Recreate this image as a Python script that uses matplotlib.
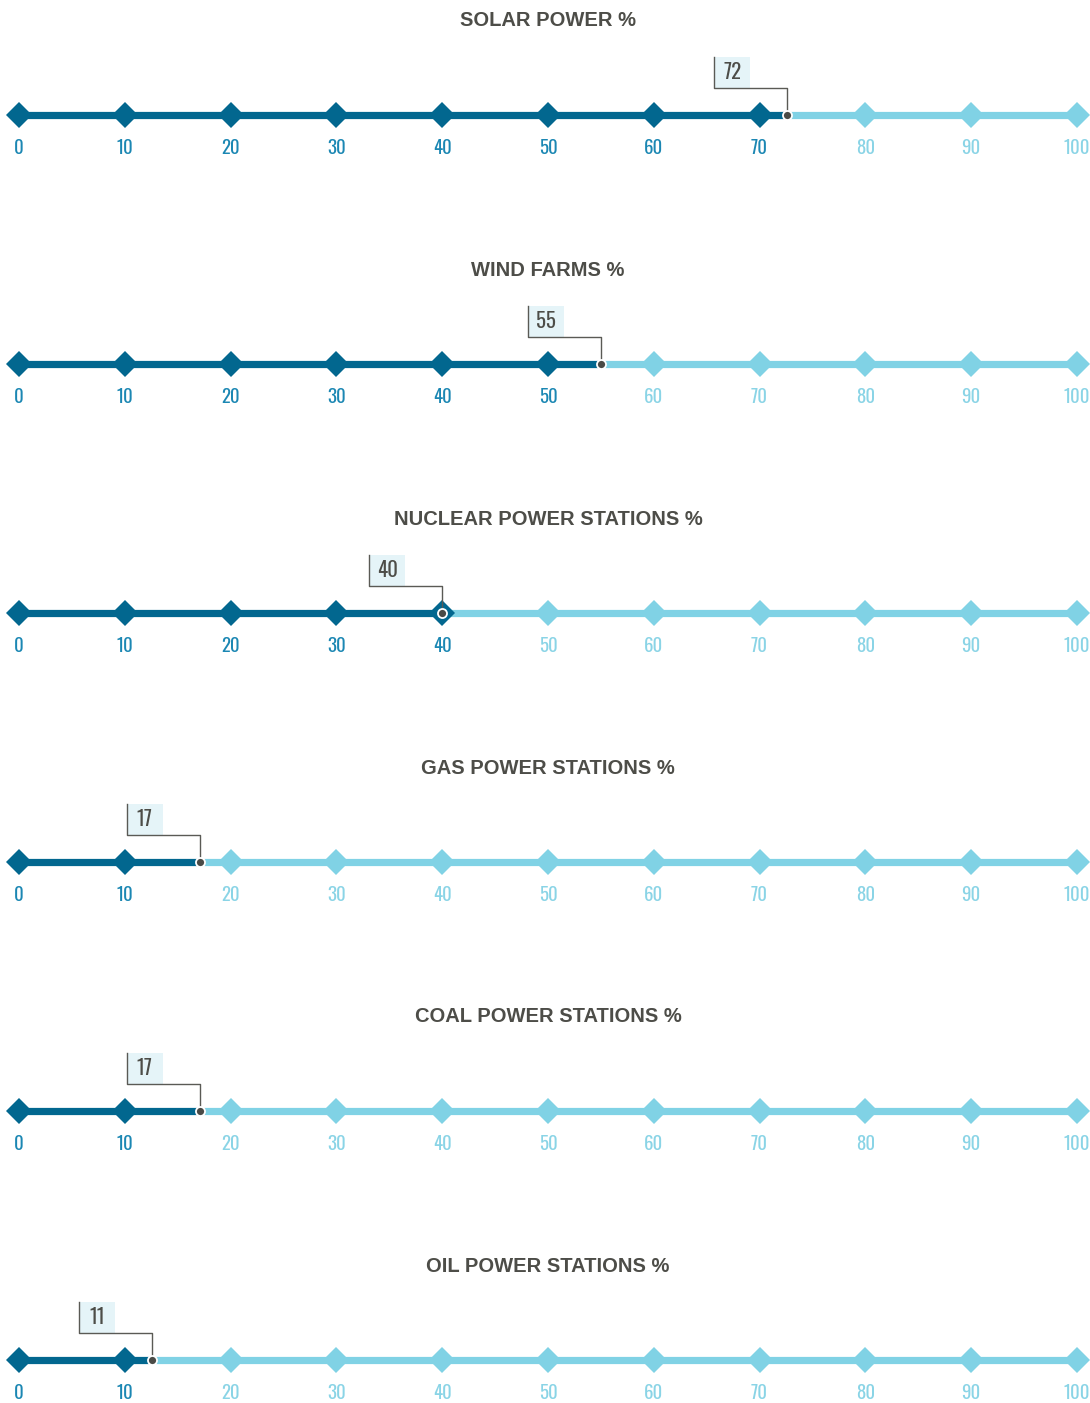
import matplotlib
matplotlib.use("Agg")
import matplotlib.pyplot as plt

titles = ["SOLAR POWER %", "WIND FARMS %", "NUCLEAR POWER STATIONS %",
          "GAS POWER STATIONS %", "COAL POWER STATIONS %", "OIL POWER STATIONS %"]
values = [72, 55, 40, 17, 17, 11]
# marker positions as drawn in the reference (slightly off the labels)
positions = [72.6, 55, 40, 17.1, 17.1, 12.6]
ticks = [0, 10, 20, 30, 40, 50, 60, 70, 80, 90, 100]
tick_labels = [str(t) for t in ticks]

DARK = "#02678f"
LIGHT = "#80d2e5"
DARK_TXT = "#1b87b3"
LIGHT_TXT = "#8ad4e6"
TITLE_C = "#4d4d48"
GREY = "#5a5a55"
BOX = "#e5f4f8"

NARROW = ["Oswald", "Roboto Condensed", "DejaVu Sans"]
TITLEF = ["Liberation Sans", "DejaVu Sans"]

W, H = 1090, 1403
fig = plt.figure(figsize=(W / 100, H / 100), dpi=100)
fig.patch.set_facecolor("white")

band = 249
x0px, x100px = 19, 1077
ppu = (x100px - x0px) / 100.0
for i, (title, v, p) in enumerate(zip(titles, values, positions)):
    top = i * band
    ax = fig.add_axes([0, 1 - (top + band) / H, 1, band / H])
    ax.set_xlim(-x0px / ppu, (W - x0px) / ppu)
    line_y = 115
    ax.set_ylim(-(band - line_y), line_y)
    ax.axis("off")
    ax.text(50, line_y - 21, title, ha="center", va="center", fontsize=14.5,
            fontweight="bold", color=TITLE_C, family=TITLEF)
    ax.plot([p, 100], [0, 0], color=LIGHT, lw=5.2, solid_capstyle="butt", zorder=1)
    ax.plot([0, p], [0, 0], color=DARK, lw=5.2, solid_capstyle="butt", zorder=2)
    for t, lab in zip(ticks, tick_labels):
        c = DARK if t <= p else LIGHT
        ax.plot([t], [0], marker="D", ms=13.5, color=c, mec=c, mew=0, zorder=3)
        ax.text(t, -33, lab, ha="center", va="center", fontsize=13.5, fontweight="normal",
                color=DARK_TXT if t <= p else LIGHT_TXT, family=NARROW)
    # callout
    off = 73 / ppu
    bx = p - off
    bw = 36 / ppu
    ax.add_patch(plt.Rectangle((bx, 27), bw, 31, facecolor=BOX, edgecolor="none", zorder=4))
    ax.plot([bx, bx, p, p], [58, 27, 27, 0], color=GREY, lw=1.0, zorder=5)
    ax.text(bx + bw / 2, 43, str(v), ha="center", va="center", fontsize=15, fontweight="normal",
            color=TITLE_C, family=NARROW, zorder=6)
    ax.plot([p], [0], marker="o", ms=6.5, color="#4a4a46", mec="white", mew=1.3, zorder=7)

fig.savefig("out.png", dpi=100, facecolor="white")
